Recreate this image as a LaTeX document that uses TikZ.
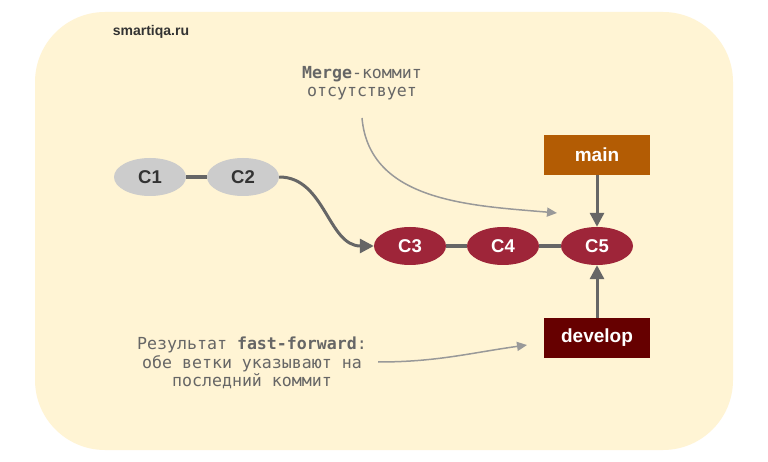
\documentclass[tikz,border=0pt]{standalone}
\usepackage{fontspec}
\setmainfont{Liberation Sans}
\newfontfamily\annofont{DejaVu Sans Mono}
\usepackage{xcolor}
\usetikzlibrary{shapes.geometric, arrows.meta, positioning}

\definecolor{cream}{HTML}{FFF4D4}
\definecolor{oldgrey}{HTML}{CCCCCC}
\definecolor{textdark}{HTML}{333333}
\definecolor{crimson}{HTML}{9E2539}
\definecolor{mainorange}{HTML}{B35C04}
\definecolor{devred}{HTML}{660000}
\definecolor{linegrey}{HTML}{666666}
\definecolor{notegrey}{HTML}{666666}
\definecolor{arrowgrey}{HTML}{999999}

\begin{document}
\begin{tikzpicture}[x=1pt, y=-1pt,
    commit/.style={ellipse, minimum width=72pt, minimum height=38pt, inner sep=0pt,
        font=\fontsize{18.5}{21}\selectfont\bfseries},
    oldcommit/.style={commit, fill=oldgrey, text=textdark},
    newcommit/.style={commit, fill=crimson, text=white},
    branch/.style={rectangle, minimum width=106pt, minimum height=40pt, inner sep=0pt,
        text=white, font=\fontsize{19}{21}\selectfont\bfseries},
    link/.style={line width=4pt, draw=linegrey},
    pointer/.style={line width=3pt, draw=linegrey, -{Triangle[length=14pt,width=14pt]}},
    note/.style={align=center, text=notegrey, font=\annofont\fontsize{16.6}{18.5}\selectfont},
    notearrow/.style={line width=1.5pt, draw=arrowgrey, -{Triangle[length=10pt,width=9pt]}}]
    % Background
    \useasboundingbox (0,0) rectangle (768,462);
    \fill[white] (0,0) rectangle (768,462);
    \fill[cream, rounded corners=70pt] (35,12) rectangle (733,450);

    % Site label
    \node[text=textdark, font=\fontsize{14}{16}\selectfont\bfseries] (site) at (151,32) {smartiqa.ru};

    % Commits
    \node[oldcommit] (C1) at (150,177) {C1};
    \node[oldcommit] (C2) at (243,177) {C2};
    \node[newcommit] (C3) at (410,246) {C3};
    \node[newcommit] (C4) at (503,246) {C4};
    \node[newcommit] (C5) at (597,246) {C5};

    % Branches
    \node[branch, fill=mainorange] (main) at (597,155) {main};
    \node[branch, fill=devred] (develop) at (597,338) {develop};

    % History links
    \draw[link] (C1) -- (C2);
    \draw[link] (C3) -- (C4);
    \draw[link] (C4) -- (C5);
    \draw[pointer] (C2.east) to[out=0, in=180] (C3.west);

    % Branch pointers
    \draw[pointer] (main) -- (C5);
    \draw[pointer] (develop) -- (C5);

    % Notes
    \node[note] (mergenote) at (362,83) {{\bfseries Merge}-коммит\\отсутствует};
    \node[note] (ffnote) at (252,363) {Результат {\bfseries fast-forward}:\\обе ветки указывают на\\последний коммит};
    \coordinate (mergetail) at (362,118);
    \coordinate (mergehead) at (557,213);
    \coordinate (fftail) at (378,362);
    \coordinate (ffhead) at (527,345);
    \draw[notearrow] (mergetail) to[out=-85, in=175] (mergehead);
    \draw[notearrow] (fftail) to[out=0, in=188] (ffhead);
\end{tikzpicture}
\end{document}
